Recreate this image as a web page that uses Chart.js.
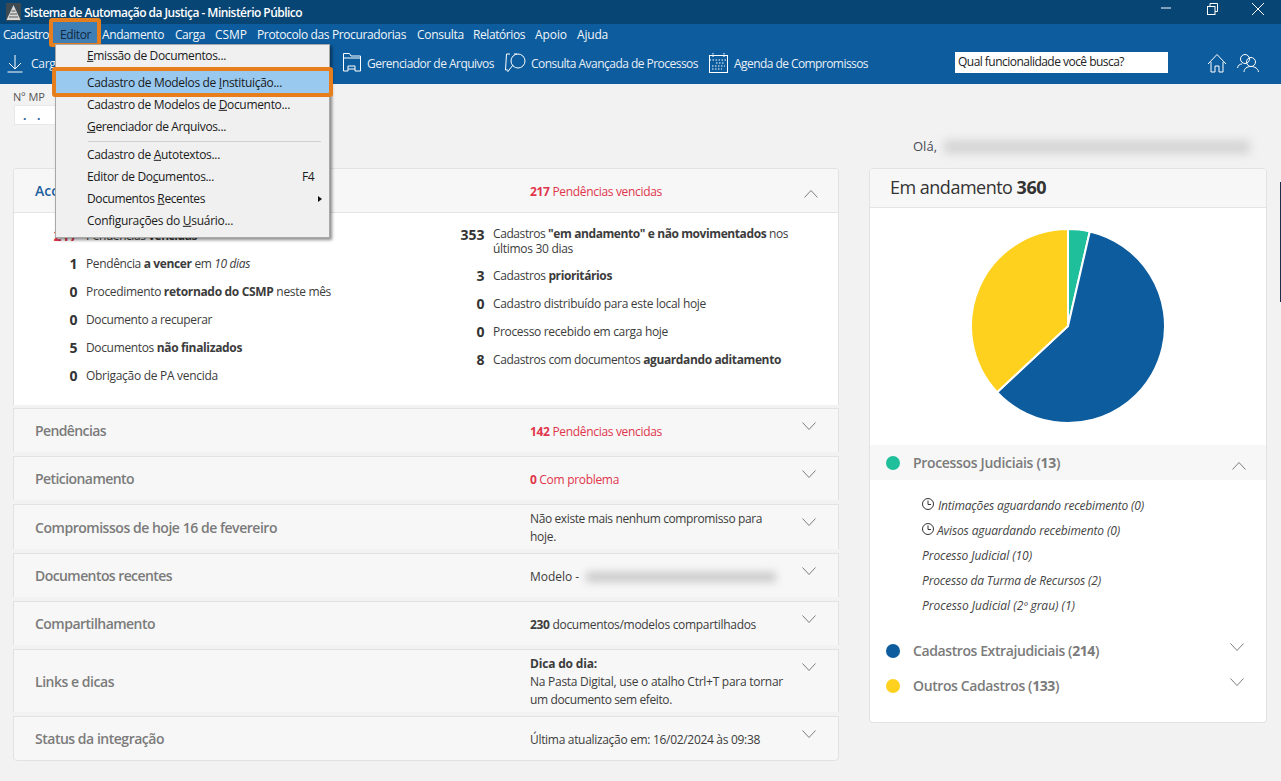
<!DOCTYPE html>
<html lang="pt-BR"><head><meta charset="utf-8">
<script src="https://cdn.jsdelivr.net/npm/chart.js@4/dist/chart.umd.min.js"></script>
<style>
html,body{margin:0;padding:0;width:1281px;height:781px;overflow:hidden;background:#f2f2f2;font-family:"Open Sans","Noto Sans",sans-serif;}
#page{position:relative;width:1281px;height:781px;overflow:hidden}
.b{position:absolute;box-sizing:border-box}
.t{position:absolute;white-space:nowrap;transform:translateY(-50%);line-height:1.2}
.t b{font-weight:700}
u{text-underline-offset:1px}
svg{position:absolute;overflow:visible}
</style></head><body><div id="page"><canvas id="pie" style="position:absolute;left:970px;top:228px;width:196px;height:196px;z-index:3"></canvas></div>
<script>
const categories=['Processos Judiciais','Cadastros Extrajudiciais','Outros Cadastros'];
const seriesValues=[13,214,133];
const sliceColors=['#20bf9b','#0c5c9e','#ffd11f'];
const page=document.getElementById('page');
function box(x,y,w,h,css,z){const d=document.createElement('div');d.className='b';d.style.cssText=`left:${x}px;top:${y}px;width:${w}px;height:${h}px;${css||''}${z?';z-index:'+z:''}`;page.appendChild(d);return d}
function t(x,y,html,right,o){o=o||{};const d=document.createElement('div');d.className='t';d.innerHTML=html;
 d.style.cssText=`left:${x}px;top:${y+1}px;font-size:${o.s||12}px;color:${o.c||'#3c3c3c'};font-weight:${o.w||400};z-index:${o.z||2};${o.i?'font-style:italic;':''}`;
 page.appendChild(d);
 if(right){const n=d.textContent.length;const w=d.getBoundingClientRect().width;d.style.letterSpacing=((right-x-w)/n).toFixed(3)+'px';}
 return d}
function tr(xr,y,html,o){const d=t(0,y,html,0,o);d.style.left=(xr-d.getBoundingClientRect().width)+'px';return d}
function svg(x,y,w,h,inner,z,col){const n='http://www.w3.org/2000/svg';const s=document.createElementNS(n,'svg');s.setAttribute('width',w);s.setAttribute('height',h);s.setAttribute('viewBox',`0 0 ${w} ${h}`);s.style.cssText=`left:${x}px;top:${y}px;z-index:${z||2}`;s.innerHTML=`<g fill="none" stroke="${col||'#fff'}" stroke-width="1">${inner}</g>`;page.appendChild(s)}
function chev(cx,cy,up){svg(cx-7,cy-4,14,8,`<path d="M0.5 ${up?7.5:0.5} L7 ${up?0.5:7.5} L13.5 ${up?7.5:0.5}"/>`,2,'#7d7d7d')}

// window chrome
box(0,0,1281,24,'background:#074574');
box(0,24,1281,60,'background:#0c5c9e');
box(6,3,15,18,'background:#3d4a52');
svg(6,3,15,18,'<path d="M7.5 2 L14.5 17 H0.5 Z" fill="#d9d9d9" stroke="none"/><path d="M4 11h7M3 14h9M5.5 8h4" stroke="#555"/>');
t(24,11.5,'Sistema de Automação da Justiça - Ministério Público',302,{c:'#fff',w:600});
svg(1161,7,10,2,'<path d="M0 1H10"/>');
svg(1207,3,12,12,'<rect x="0.5" y="3.5" width="7.5" height="8"/><path d="M3 3V0.5H10.5V8.5H8"/>');
svg(1252,3,12,12,'<path d="M0 0L12 12M12 0L0 12"/>');

const menus=[['Cadastro',3,49],['Editor',60,91],['Andamento',102,164],['Carga',175,205],['CSMP',215,247],['Protocolo das Procuradorias',257,406],['Consulta',417,464],['Relatórios',473,525],['Apoio',535,567],['Ajuda',577,608]];
box(49,18,52,29,'background:#3f7fb5;border:4px solid #e67e1e;border-radius:3px',1);
menus.forEach(m=>t(m[1],34,m[0],m[2],{c:m[0]=='Editor'?'#10283f':'#f2f6fa',z:3}));

// toolbar
svg(7,54,16,19,'<path d="M8 1V15M2 9L8 15L14 9M0.5 18H15.5"/>');
t(31,63,'Carga',62,{c:'#e8eff6'});
svg(343,53,18,19,'<path d="M0.5 5V18H5M12 18H17.5V3H8L6.5 0.5H0.5V5H17.5M5 18V13H12V18M5 16H12"/>');
t(367,63,'Gerenciador de Arquivos',494,{c:'#e8eff6'});
svg(505,52,22,21,'<path d="M5 2H1.5L0.5 18H3M12 2H9M2.5 20L8 13"/><circle cx="13" cy="9" r="7"/>');
t(531,63,'Consulta Avançada de Processos',698,{c:'#e8eff6'});
svg(709,53,19,20,'<rect x="0.5" y="2.5" width="18" height="17"/><path d="M0.5 7H18.5M4 0V4M15 0V4M7 10H16M3 13H16M3 16H13" stroke-dasharray="1.5 1.5"/>');
t(734,63,'Agenda de Compromissos',868,{c:'#e8eff6'});
box(955,52,213,21,'background:#fff');
t(958,61,'Qual funcionalidade você busca?',1124,{c:'#222'});
svg(1207,53,20,20,'<path d="M1 11L10 1.5L19 11M4 9V19H8V13H12V19H16V9"/>');
svg(1237,53,23,20,'<circle cx="8" cy="6" r="4.5"/><circle cx="14" cy="9" r="4.5"/><path d="M0.5 15C1 12 3 11 5 11M7 19C7 15.5 10 13.5 14 13.5C18 13.5 21 15.5 21.5 19"/>');

// above the cards
t(13,96,'Nº MP',45,{s:11,c:'#555'});
box(14,105,50,20,'background:#fff;border:1px solid #e8e8e8');
t(23,115,'.',0,{s:12,c:'#1f5f9e',w:700});t(37,115,'.',0,{s:12,c:'#1f5f9e',w:700});
t(913,146,'Olá,',937,{s:13,c:'#4a4a55'});
box(944,140,306,14,'background:#c9c9c9;filter:blur(5px);opacity:.7');
box(1280,182,1,120,'background:#1c2e4a');

// left column cards
box(13,168,826,237,'background:#fff;border:1px solid #e2e2e2;border-bottom:0;border-radius:4px 4px 0 0');
box(14,169,824,44,'background:#f7f7f7;border-bottom:1px solid #e4e4e4;border-radius:3px 3px 0 0');
const cards=[[408,44,'Pendências',106,430,426],[456,44,'Peticionamento',134,478,474],[504,45,'Compromissos de hoje 16 de fevereiro',277,527,522],[553,44,'Documentos recentes',172,575,571],[601,44,'Compartilhamento',155,623,619],[649,63,'Links e dicas',114,681,667],[716,45,'Status da integração',164,738,734]];
cards.forEach((c,i)=>{
 box(13,c[0],826,c[1],`background:#f7f7f7;border:1px solid #e2e2e2;border-bottom:${i==6?'1px solid #e2e2e2':'0'};${i==6?'border-radius:0 0 4px 4px':''}`);
 t(35,c[4],c[2],c[3],{s:14,w:600,c:'#7b7b7b'});
 chev(809,c[5]);
});
t(35,190,'Acc',0,{s:14,w:600,c:'#1f5f9e'});
chev(811,194,true);
const red='#e0354b';
t(530,191,'<b>217</b> Pendências vencidas',662,{c:red});
t(530,431,'<b>142</b> Pendências vencidas',662,{c:red});
t(530,479,'<b>0</b> Com problema',619,{c:red});
t(530,518,'Não existe mais nenhum compromisso para',762);
t(530,536,'hoje.',556);
t(530,576,'Modelo -',579);
box(586,572,190,10,'background:#bdbdbd;filter:blur(4px);opacity:.8');
t(530,624,'<b>230</b> documentos/modelos compartilhados',756);
t(530,663,'<b>Dica do dia:</b>',597);
t(530,681,'Na Pasta Digital, use o atalho Ctrl+T para tornar',783);
t(530,699,'um documento sem efeito.',672);
t(530,739,'Última atualização em: 16/02/2024 às 09:38',760);

// summary rows
[['217',235,'Pendências <b>vencidas</b>',197,red],['1',263,'Pendência <b>a vencer</b> em <i>10 dias</i>',250],['0',291,'Procedimento <b>retornado do CSMP</b> neste mês',331],['0',319,'Documento a recuperar',212],['5',347,'Documentos <b>não finalizados</b>',242],['0',375,'Obrigação de PA vencida',218]].forEach(r=>{
 tr(77.5,r[1],r[0],{s:14,w:700,c:r[4]||'#333'});t(86,r[1],r[2],r[3]);});
[['353',234,'Cadastros <b>"em andamento" e não movimentados</b> nos',788,233],['3',275,'Cadastros <b>prioritários</b>',612,275],['0',303,'Cadastro distribuído para este local hoje',706,303],['0',331,'Processo recebido em carga hoje',668,331],['8',359,'Cadastros com documentos <b>aguardando aditamento</b>',781,359]].forEach(r=>{
 tr(484.5,r[1],r[0],{s:14,w:700,c:'#333'});t(493,r[4],r[2],r[3]);});
t(493,248,'últimos 30 dias',573);

// drop-down menu
box(55,44,275,194,'background:#f0f0f0;border:1px solid #a8a8a8;box-shadow:2px 2px 3px rgba(0,0,0,.45)',5);
box(56,71,274,24,'background:#99c9ef',6);
box(52,67,281,30,'border:4px solid #e67e1e;border-radius:3px',7);
box(88,141,233,1,'background:#cfcfcf',6);
[['<u>E</u>missão de Documentos...',55,226],['Cadastro de Modelos de <u>I</u>nstituição...',82,282],['Cadastro de Modelos de <u>D</u>ocumento...',104,290],['<u>G</u>erenciador de Arquivos...',126,226],['Cadastro de <u>A</u>utotextos...',154,220],['Editor de Do<u>c</u>umentos...',176,214],['Documentos <u>R</u>ecentes',198,205],['Configurações do <u>U</u>suário...',220,233]].forEach(m=>t(87,m[1],m[0],m[2],{c:'#1a1a1a',z:8}));
t(302,176,'F4',314,{c:'#1a1a1a',z:8});
svg(318,196,4,6,'<path d="M0 0L4 3L0 6Z" fill="#111" stroke="none"/>',8);

// right card
box(869,168,398,555,'background:#fff;border:1px solid #e2e2e2;border-radius:4px');
box(870,169,396,39,'background:#f7f7f7;border-bottom:1px solid #e4e4e4;border-radius:3px 3px 0 0');
t(890,187,'Em andamento <b>360</b>',1046,{s:18,c:'#333'});
box(870,445,396,35,'background:#f7f7f7');
const ly=[463,651,686];
categories.forEach((c,i)=>{
 box(886,ly[i]-7,14,14,`background:${sliceColors[i]};border-radius:50%`);
 t(913,ly[i]-1,`${c} (<b>${seriesValues[i]}</b>)`,[1060,1099,1059][i],{s:14,w:600,c:'#7b7b7b'});
});
chev(1239,466,true);chev(1237,647);chev(1237,682);
const clock='<circle cx="6" cy="6" r="5.5" stroke="#333"/><path d="M6 2.5V6.5H9" stroke="#333"/>';
svg(922,498,12,12,clock);svg(922,523,12,12,clock);
[[938,505,'Intimações aguardando recebimento (0)',1144],[937,530,'Avisos aguardando recebimento (0)',1120],[922,555,'Processo Judicial (10)',1032],[922,580,'Processo da Turma de Recursos (2)',1101],[922,605,'Processo Judicial (2º grau) (1)',1075]].forEach(r=>t(r[0],r[1],r[2],r[3],{i:1,c:'#444'}));

new Chart(document.getElementById('pie'),{type:'pie',
 data:{labels:categories,datasets:[{data:seriesValues,backgroundColor:sliceColors,borderColor:'#fff',borderWidth:2}]},
 options:{responsive:false,animation:false,devicePixelRatio:1,layout:{padding:0},plugins:{legend:{display:false},tooltip:{enabled:false}}}});
</script></body></html>
